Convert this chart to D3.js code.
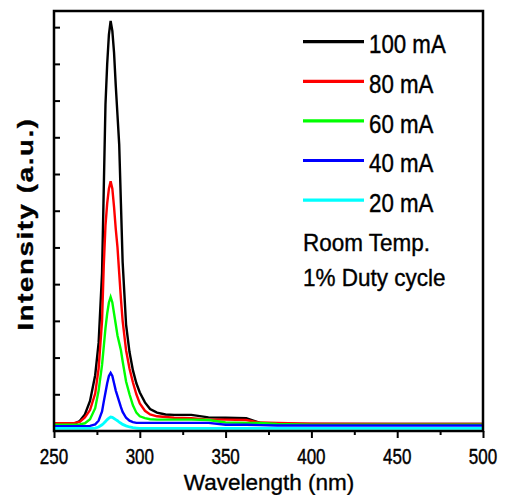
<!DOCTYPE html>
<html>
<head>
<meta charset="utf-8">
<script src="https://d3js.org/d3.v7.min.js"></script>
<style>
  body { margin: 0; background: #fff; }
  svg text { font-family: "Liberation Sans", Arial, sans-serif; fill: #000; stroke: #000; stroke-width: 0.35px; }
</style>
</head>
<body>
<div id="chart"></div>
<script>
// wavelength grid (nm) shared by all spectra
var wavelengths = [250, 262, 265, 268, 271, 274, 276, 278, 279, 280, 281, 282, 283, 284, 285, 286, 287, 288, 289, 290,
                   292, 294, 296, 298, 300, 303, 306, 310, 315, 320, 330, 340, 350, 362, 370, 380, 400, 450, 500];

var i100 = [0.19, 0.20, 0.27, 0.45, 0.82, 1.52, 2.4, 4.3, 6.6, 8.9, 10.0, 10.8, 11.17, 10.9, 10.3, 9.4, 8.6, 7.8, 6.2, 4.6,
            2.9, 2.15, 1.65, 1.3, 1.05, 0.78, 0.6, 0.5, 0.45, 0.44, 0.44, 0.37, 0.36, 0.35, 0.22, 0.19, 0.19, 0.19, 0.19];
var i80  = [0.21, 0.22, 0.25, 0.37, 0.57, 1.02, 1.7, 3.0, 4.5, 5.6, 6.2, 6.6, 6.8, 6.6, 6.1, 5.5, 5.0, 4.3, 3.6, 3.0,
            2.2, 1.7, 1.32, 1.0, 0.75, 0.55, 0.45, 0.40, 0.38, 0.36, 0.35, 0.31, 0.31, 0.30, 0.23, 0.22, 0.20, 0.19, 0.19];
var i60  = [0.17, 0.17, 0.18, 0.21, 0.32, 0.62, 1.1, 1.8, 2.3, 2.8, 3.2, 3.5, 3.65, 3.5, 3.2, 2.9, 2.6, 2.4, 2.2, 1.9,
            1.35, 1.0, 0.7, 0.5, 0.40, 0.35, 0.32, 0.31, 0.31, 0.31, 0.31, 0.30, 0.23, 0.22, 0.22, 0.19, 0.17, 0.17, 0.17];
var i40  = [0.13, 0.13, 0.13, 0.13, 0.14, 0.18, 0.28, 0.53, 0.8, 1.05, 1.3, 1.5, 1.58, 1.5, 1.3, 1.1, 0.95, 0.8, 0.65, 0.52,
            0.36, 0.28, 0.24, 0.22, 0.22, 0.22, 0.22, 0.22, 0.22, 0.22, 0.22, 0.22, 0.17, 0.17, 0.16, 0.15, 0.15, 0.15, 0.15];
var i20  = [0.07, 0.07, 0.07, 0.07, 0.07, 0.08, 0.11, 0.17, 0.21, 0.26, 0.31, 0.35, 0.38, 0.37, 0.34, 0.31, 0.28, 0.24, 0.21, 0.18,
            0.14, 0.11, 0.09, 0.08, 0.07, 0.07, 0.07, 0.07, 0.07, 0.07, 0.07, 0.07, 0.07, 0.07, 0.07, 0.07, 0.07, 0.07, 0.07];

var series_names = ["100 mA", "80 mA", "60 mA", "40 mA", "20 mA"];
var series_colors = ["#000000", "#ff0000", "#00ff00", "#0000ff", "#00ffff"];
var series_values = [i100, i80, i60, i40, i20];
var notes = ["Room Temp.", "1% Duty cycle"];

var x_ticks = [250, 300, 350, 400, 450, 500];
var x_minor = [275, 325, 375, 425, 475];
var y_ticks = [1, 2, 3, 4, 5, 6, 7, 8, 9, 10, 11];

var width = 505, height = 495;
var plot = {left: 54, right: 483, top: 11, bottom: 431};

var svg = d3.select("#chart").append("svg")
    .attr("width", width)
    .attr("height", height);

var x = d3.scaleLinear().domain([250, 500]).range([plot.left, plot.right]);
var y = d3.scaleLinear().domain([0, 11.44]).range([plot.bottom, plot.top]);

// stretched text helper (the source picture text is not square)
function add_text(g, tx, ty, str, size, sx, sy, anchor, weight) {
  return g.append("text")
    .attr("transform", "translate(" + tx + "," + ty + ") scale(" + sx + "," + sy + ")")
    .attr("text-anchor", anchor || "start")
    .style("font-size", size + "px")
    .style("font-weight", weight || "normal")
    .text(str);
}

// spectra
var line = d3.line()
    .x(function(d) { return x(d[0]); })
    .y(function(d) { return y(d[1]); });

var curves = svg.append("g").attr("class", "curves");
series_values.forEach(function(vals, i) {
  var pts = wavelengths.map(function(w, j) { return [w, vals[j]]; });
  curves.append("path")
    .datum(pts)
    .attr("fill", "none")
    .attr("stroke", series_colors[i])
    .attr("stroke-width", i == 4 ? 2.8 : 2.4)
    .attr("d", line);
});

// x axis: major + minor ticks, outward
var x_axis = d3.axisBottom(x).tickValues(x_ticks).tickSize(7).tickFormat("");
var gx = svg.append("g")
    .attr("transform", "translate(0," + plot.bottom + ")")
    .call(x_axis);
gx.select(".domain").remove();
gx.selectAll(".tick line").attr("stroke", "#000").attr("stroke-width", 2);

var gx_minor = svg.append("g")
    .attr("transform", "translate(0," + plot.bottom + ")")
    .call(d3.axisBottom(x).tickValues(x_minor).tickSize(4).tickFormat(""));
gx_minor.select(".domain").remove();
gx_minor.selectAll(".tick line").attr("stroke", "#000").attr("stroke-width", 2);

x_ticks.forEach(function(t) {
  add_text(svg, x(t), 464, String(t), 17, 1, 1.3, "middle");
});

// y axis: ticks inward, no labels
var gy = svg.append("g")
    .attr("transform", "translate(" + plot.left + ",0)")
    .call(d3.axisRight(y).tickValues(y_ticks).tickSize(6).tickFormat(""));
gy.select(".domain").remove();
gy.selectAll(".tick line").attr("stroke", "#000").attr("stroke-width", 2);

// frame
svg.append("rect")
    .attr("x", plot.left)
    .attr("y", plot.top)
    .attr("width", plot.right - plot.left)
    .attr("height", plot.bottom - plot.top)
    .attr("fill", "none")
    .attr("stroke", "#000")
    .attr("stroke-width", 2.5);

// axis titles
add_text(svg, 269, 490, "Wavelength (nm)", 22.5, 1, 1, "middle");
svg.append("text")
    .attr("transform", "translate(32.5,224) rotate(-90) scale(1.28,1)")
    .attr("text-anchor", "middle")
    .style("font-size", "21.5px")
    .style("font-weight", "bold")
    .style("letter-spacing", "1.3px")
    .text("Intensity (a.u.)");

// legend
var legend = svg.append("g").attr("class", "legend");
series_names.forEach(function(name, i) {
  var ly = 41.7 + i * 39.6;
  legend.append("line")
    .attr("x1", 303).attr("x2", 364)
    .attr("y1", ly).attr("y2", ly)
    .attr("stroke", series_colors[i])
    .attr("stroke-width", 3.2);
  add_text(legend, 369, ly + 11.6, name, 22.3, 1, 1.12, "start");
});
notes.forEach(function(n, i) {
  add_text(legend, 303, 250.7 + i * 35.5, n, 22.5, 1, 1.08, "start");
});
</script>
</body>
</html>
